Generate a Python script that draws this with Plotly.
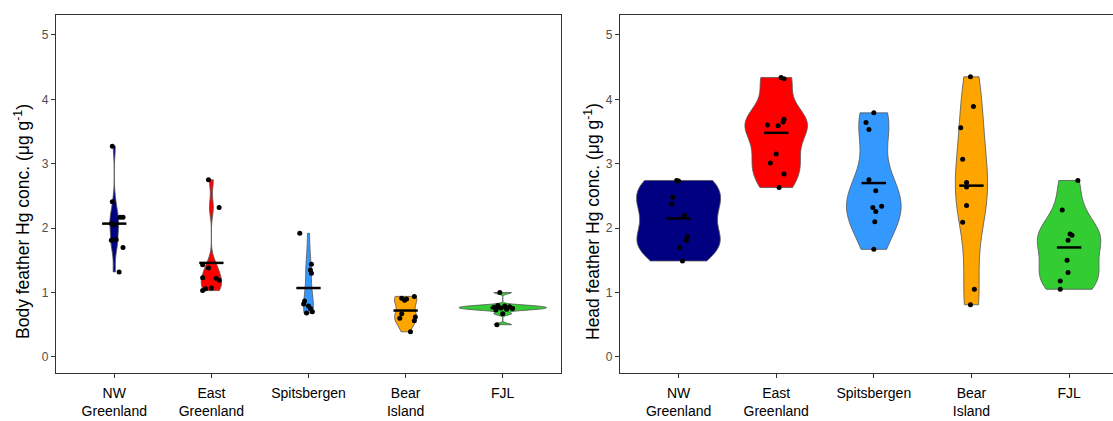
import numpy as np
import plotly.graph_objects as go

# ---------------- data ----------------
categories = ["NW<br>Greenland", "East<br>Greenland", "Spitsbergen", "Bear<br>Island", "FJL"]
colors = ["#000080", "#FF0000", "#3399FF", "#FFA500", "#33CC33"]

# Body feather Hg (µg g-1)
body_nw = [3.27, 2.41, 2.17, 2.17, 2.07, 2.05, 1.81, 1.82, 1.70, 1.32]
body_east = [2.75, 2.32, 1.43, 1.38, 1.23, 1.22, 1.19, 1.06, 1.03, 1.07]
body_spits = [1.92, 1.44, 1.35, 1.30, 0.87, 0.82, 0.79, 0.75, 0.68, 0.70]
body_bear = [0.91, 0.88, 0.90, 0.94, 0.67, 0.60, 0.62, 0.56, 0.39]
body_fjl = [1.00, 0.80, 0.79, 0.78, 0.77, 0.76, 0.75, 0.74, 0.73, 0.67, 0.50]
body_means = [2.07, 1.46, 1.07, 0.72, 0.76]

# horizontal jitter of the plotted points (category units)
body_nw_jit = [-0.02, -0.02, 0.06, 0.09, -0.03, 0.00, -0.03, 0.02, 0.09, 0.05]
body_east_jit = [-0.03, 0.08, -0.09, -0.03, -0.09, 0.05, 0.08, -0.06, -0.09, 0.00]
body_spits_jit = [-0.09, 0.03, 0.02, 0.03, -0.04, -0.05, 0.00, 0.02, -0.02, 0.04]
body_bear_jit = [-0.04, -0.01, 0.01, 0.09, -0.04, -0.06, 0.10, 0.09, 0.05]
body_fjl_jit = [-0.03, -0.05, 0.02, 0.07, -0.09, -0.02, 0.10, 0.04, -0.07, 0.00, -0.06]

# Head feather Hg (µg g-1)
head_nw = [2.74, 2.73, 2.48, 2.38, 2.20, 1.87, 1.81, 1.70, 1.49]
head_east = [4.34, 4.32, 3.60, 3.59, 3.65, 3.69, 3.15, 3.01, 2.84, 2.63]
head_spits = [3.79, 3.64, 3.53, 2.75, 2.58, 2.34, 2.32, 2.26, 2.10, 1.67]
head_bear = [4.35, 3.89, 3.56, 3.07, 2.71, 2.64, 2.35, 2.09, 1.05, 0.81]
head_fjl = [2.74, 2.28, 1.91, 1.89, 1.81, 1.50, 1.31, 1.18, 1.05]
head_means = [2.15, 3.48, 2.70, 2.66, 1.70]

head_nw_jit = [-0.02, 0.00, -0.06, -0.07, 0.06, 0.09, 0.08, 0.01, 0.04]
head_east_jit = [0.05, 0.08, -0.09, 0.02, 0.07, 0.08, 0.00, -0.06, 0.08, 0.03]
head_spits_jit = [0.00, -0.08, -0.05, -0.05, 0.02, 0.08, -0.01, 0.02, 0.01, 0.00]
head_bear_jit = [-0.01, 0.02, -0.11, -0.09, -0.05, -0.05, -0.05, -0.09, 0.03, -0.01]
head_fjl_jit = [0.09, -0.07, 0.01, 0.03, -0.01, -0.02, -0.01, -0.09, -0.09]

y_titles = ["Body feather Hg conc. (μg g<sup>-1</sup>)",
            "Head feather Hg conc. (μg g<sup>-1</sup>)"]

# ---------------- styling ----------------
body_widths = [0.09, 0.21, 0.10, 0.23, 0.90]
head_widths = [0.86, 0.64, 0.56, 0.33, 0.65]
MEAN_HALF = 0.125
FONT = "Liberation Sans, Arial, sans-serif"


def bw_nrd0(v):
    v = np.asarray(v, dtype=float)
    sd = np.std(v, ddof=1)
    q75, q25 = np.percentile(v, [75, 25])
    lo = min(sd, (q75 - q25) / 1.34)
    if lo <= 0:
        lo = sd if sd > 0 else 1.0
    return 0.9 * lo * len(v) ** -0.2


fig = go.Figure()


def add_panel(groups, jits, means, widths, xa, ya):
    for i, (vals, col, w) in enumerate(zip(groups, colors, widths)):
        fig.add_trace(go.Violin(
            x0=i + 1, y=vals, xaxis=xa, yaxis=ya,
            fillcolor=col, line=dict(color="#555555", width=0.8),
            opacity=1, points=False, spanmode="hard",
            bandwidth=bw_nrd0(vals), width=w, scalemode="width",
            box=dict(visible=False), meanline=dict(visible=False),
            showlegend=False, hoverinfo="skip"))
    # mean lines
    mx, my = [], []
    for i, m in enumerate(means):
        mx += [i + 1 - MEAN_HALF, i + 1 + MEAN_HALF, None]
        my += [m, m, None]
    fig.add_trace(go.Scatter(x=mx, y=my, mode="lines", xaxis=xa, yaxis=ya,
                             line=dict(color="black", width=2.5),
                             showlegend=False, hoverinfo="skip"))
    # jittered points
    px, py = [], []
    for i, (vals, jit) in enumerate(zip(groups, jits)):
        px += [i + 1 + j for j in jit]
        py += list(vals)
    fig.add_trace(go.Scatter(x=px, y=py, mode="markers", xaxis=xa, yaxis=ya,
                             marker=dict(color="black", size=5),
                             showlegend=False, hoverinfo="skip"))


add_panel([body_nw, body_east, body_spits, body_bear, body_fjl],
          [body_nw_jit, body_east_jit, body_spits_jit, body_bear_jit, body_fjl_jit],
          body_means, body_widths, "x", "y")
add_panel([head_nw, head_east, head_spits, head_bear, head_fjl],
          [head_nw_jit, head_east_jit, head_spits_jit, head_bear_jit, head_fjl_jit],
          head_means, head_widths, "x2", "y2")

W, H = 1113, 421
ML, MR, MT, MB = 56, 0, 15, 48
pw = W - ML - MR
ph = H - MT - MB
left_end = (561 - ML) / pw
right_start = (620 - ML) / pw

axis_common = dict(showgrid=False, zeroline=False, showline=True,
                   linecolor="#333333", linewidth=1.3,
                   ticks="outside", ticklen=4, tickcolor="#333333", tickwidth=1)

fig.update_layout(
    width=W, height=H, margin=dict(l=ML, r=MR, t=MT, b=MB),
    paper_bgcolor="white", plot_bgcolor="white",
    font=dict(family=FONT, color="black"),
    violinmode="overlay",
    xaxis=dict(domain=[0, left_end], range=[0.4, 5.6], tickvals=[1, 2, 3, 4, 5],
               ticktext=categories, tickfont=dict(size=14, color="black"),
               ticklabelstandoff=3, mirror=True, **axis_common),
    yaxis=dict(domain=[0, 1], range=[-0.25, 5.31], tickvals=[0, 1, 2, 3, 4, 5],
               tickfont=dict(size=12, color="#4D4D4D"), mirror=True,
               **axis_common),
    xaxis2=dict(domain=[right_start, 1], range=[0.4, 5.45], tickvals=[1, 2, 3, 4, 5],
                ticktext=categories, tickfont=dict(size=14, color="black"),
                ticklabelstandoff=3, mirror=True, anchor="y2", **axis_common),
    yaxis2=dict(domain=[0, 1], range=[-0.25, 5.31], tickvals=[0, 1, 2, 3, 4, 5],
                tickfont=dict(size=12, color="#4D4D4D"), mirror=False, anchor="x2",
                **axis_common),
)

# rotated y-axis titles (placed like the reference)
title_y = (H - MB - 222) / ph
for txt, xpx in zip(y_titles, [22, 592]):
    fig.add_annotation(text=txt, textangle=-90, xref="paper", yref="paper",
                       x=(xpx - ML) / pw, y=title_y, showarrow=False,
                       xanchor="center", yanchor="middle",
                       font=dict(size=17.5, color="black", family=FONT))

fig.write_html("out.html")
